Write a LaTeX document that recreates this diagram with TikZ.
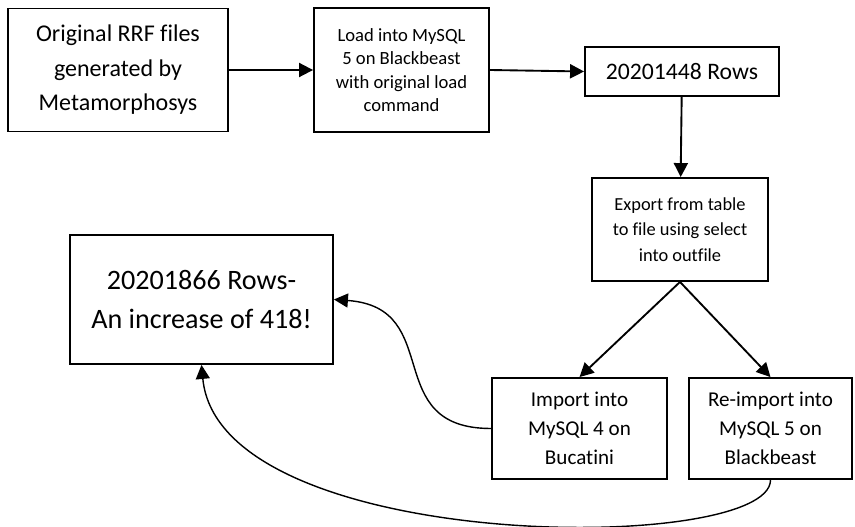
\documentclass[tikz,border=0pt]{standalone}
\usepackage{fontspec}
\setmainfont{Carlito}[Ligatures=NoCommon]
\usetikzlibrary{arrows.meta}

\begin{document}
\begin{tikzpicture}[x=0.3mm,y=-0.3mm]
\tikzset{
  stepbox/.style={rectangle,draw,line width=1.6pt,align=center,inner sep=2pt},
  flow/.style={-{Triangle[length=4.2mm,width=4.2mm]},line width=1.6pt},
  curvedflow/.style={-{Triangle[length=4.2mm,width=4.2mm]},line width=1.2pt}
}
\useasboundingbox (0,0) rectangle (855,527);
\node[stepbox,minimum width=220*0.3mm,minimum height=123*0.3mm,font=\fontsize{20.5}{29.5}\selectfont] (n_orig) at (118,70) {Original RRF files\\generated by\\Metamorphosys};
\node[stepbox,minimum width=175*0.3mm,minimum height=124*0.3mm,font=\fontsize{15.9}{20}\selectfont] (n_load) at (401.5,70) {Load into MySQL\\5 on Blackbeast\\with original load\\command};
\node[stepbox,minimum width=194*0.3mm,minimum height=49*0.3mm,font=\fontsize{20.2}{26}\selectfont] (n_rows) at (682,71.5) {20201448 Rows};
\node[stepbox,minimum width=176*0.3mm,minimum height=103*0.3mm,font=\fontsize{15.7}{22}\selectfont] (n_export) at (680,229.5) {Export from table\\to file using select\\into outfile};
\node[stepbox,minimum width=263*0.3mm,minimum height=129*0.3mm,font=\fontsize{24}{32.5}\selectfont] (n_result) at (201.5,299.5) {20201866 Rows-\\An increase of 418!};
\node[stepbox,minimum width=175*0.3mm,minimum height=101*0.3mm,font=\fontsize{18}{24.7}\selectfont] (n_buca) at (579.5,428.5) {Import into\\MySQL 4 on\\Bucatini};
\node[stepbox,minimum width=163*0.3mm,minimum height=101*0.3mm,font=\fontsize{18}{24.7}\selectfont] (n_reimp) at (770.5,428.5) {Re-import into\\MySQL 5 on\\Blackbeast};
\draw[flow] (n_orig) -- (n_load);
\draw[flow] (n_load.east) -- (n_rows.west);
\draw[flow] (n_rows) -- (n_export);
\draw[flow] (n_export.south) -- (n_buca.north);
\draw[flow] (n_export.south) -- (n_reimp.north);
\draw[curvedflow] (n_buca.west) .. controls +(-112,0) and +(112,8) .. (n_result.east);
\draw[curvedflow] (n_reimp.south) .. controls +(0,75) and +(18,190) .. (n_result.south);
\end{tikzpicture}
\end{document}
